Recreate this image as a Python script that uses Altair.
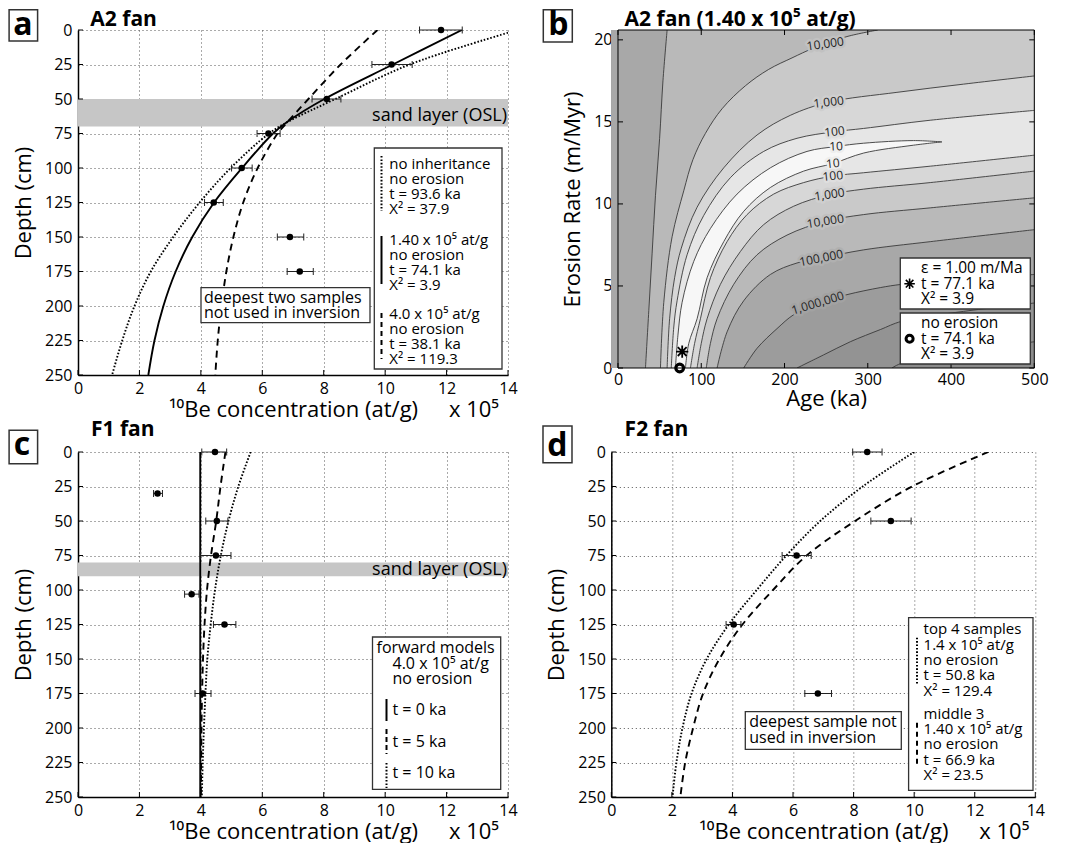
import altair as alt
import pandas as pd

FONT = "Open Sans"

# ---------------- Panel a: A2 fan ----------------
a_depth = [0, 25, 50, 75, 100, 125, 150, 175]
a_conc = [11.82, 10.21, 8.10, 6.20, 5.33, 4.42, 6.90, 7.22]
a_lo = [11.12, 9.57, 7.62, 5.83, 5.00, 4.12, 6.49, 6.81]
a_hi = [12.51, 10.88, 8.56, 6.58, 5.67, 4.73, 7.35, 7.66]
a_solid_depth = [0, 25, 50, 66, 75, 100, 125, 150, 175, 200, 225, 250]
a_solid_conc = [12.5, 10.25, 8.02, 6.85, 6.35, 5.34, 4.43, 3.72, 3.18, 2.78, 2.49, 2.29]
a_dotted_depth = [2, 25, 50, 66, 75, 100, 125, 150, 175, 200, 225, 250]
a_dotted_conc = [14.0, 10.8, 8.38, 6.88, 6.22, 4.97, 3.96, 3.10, 2.37, 1.84, 1.44, 1.11]
a_dashed_depth = [0, 25, 50, 66, 75, 100, 125, 150, 175, 200, 225, 250]
a_dashed_conc = [9.75, 8.55, 7.5, 6.85, 6.5, 5.85, 5.38, 5.06, 4.83, 4.67, 4.55, 4.47]
a_sand = [50, 70]

# ---------------- Panel c: F1 fan ----------------
c_depth = [0, 30, 50, 75, 103, 125, 175]
c_conc = [4.46, 2.59, 4.52, 4.49, 3.70, 4.77, 4.06]
c_lo = [4.03, 2.46, 4.16, 3.98, 3.47, 4.41, 3.81]
c_hi = [4.84, 2.75, 4.88, 4.98, 3.94, 5.14, 4.33]
c_t0_depth = [0, 250]
c_t0_conc = [3.98, 3.98]
c_t5_depth = [0, 25, 50, 75, 100, 125, 150, 175, 200, 250]
c_t5_conc = [4.80, 4.64, 4.50, 4.33, 4.20, 4.12, 4.07, 4.04, 4.02, 4.00]
c_t10_depth = [0, 25, 50, 75, 100, 125, 150, 175, 200, 225, 250]
c_t10_conc = [5.62, 5.22, 4.90, 4.65, 4.46, 4.32, 4.21, 4.15, 4.10, 4.06, 4.03]
c_sand = [80, 90]

# ---------------- Panel d: F2 fan ----------------
d_depth = [0, 50, 75, 125, 175]
d_conc = [8.45, 9.23, 6.12, 4.04, 6.82]
d_lo = [7.97, 8.57, 5.64, 3.79, 6.39]
d_hi = [8.94, 9.90, 6.60, 4.28, 7.27]
d_curve_depth = [0, 25, 50, 75, 100, 125, 150, 175, 200, 225, 250]
d_dotted_conc = [10.0, 8.3, 6.9, 5.78, 4.8, 3.88, 3.15, 2.65, 2.35, 2.15, 2.02]
d_dashed_conc = [12.45, 9.93, 8.05, 6.45, 5.34, 4.33, 3.57, 3.03, 2.70, 2.44, 2.28]

# ---------------- Panel b: chi-square contours (age ka, erosion m/Myr) ----------------
b_1e5u_age = [33, 37, 41, 45, 50, 54, 59]
b_1e5u_rate = [0, 3.5, 7, 10.5, 14, 17.5, 20.6]
b_1e4u_age = [51, 55, 65, 79, 90, 105, 125, 153, 181, 209, 235, 275, 312]
b_1e4u_rate = [0, 4, 8, 10.8, 12.7, 14.3, 15.8, 17.2, 18.2, 18.9, 19.5, 20.2, 20.6]
b_1e3u_age = [59, 62, 68, 76, 95, 127, 167, 207, 253, 335, 415, 500]
b_1e3u_rate = [0, 3, 5.5, 7.3, 9.8, 12.2, 14.2, 15.4, 16.2, 16.8, 17.3, 17.8]
b_1e2u_age = [64, 67, 71, 83, 103, 135, 175, 215, 260, 295, 375, 500]
b_1e2u_rate = [0, 2.5, 4.1, 6.9, 9.3, 11.6, 13.2, 14.0, 14.4, 14.6, 15.1, 15.7]
b_10u_age = [69, 72, 77, 91, 111, 143, 183, 227, 262, 295, 355, 389]
b_10u_rate = [0, 2, 4, 6.5, 8.5, 10.6, 12.2, 13.2, 13.5, 13.7, 13.86, 13.78]
b_10l_age = [81, 85, 95, 107, 127, 151, 183, 223, 258, 295, 355, 389]
b_10l_rate = [0, 1.5, 3.0, 5.5, 7.7, 9.55, 11.0, 12.0, 12.46, 13.1, 13.58, 13.78]
b_1e2l_age = [87, 92, 99, 111, 131, 155, 187, 223, 258, 295, 375, 500]
b_1e2l_rate = [0, 1.5, 3, 5.5, 7.7, 9.35, 10.6, 11.3, 11.7, 11.9, 12.3, 12.97]
b_1e3l_age = [95, 100, 107, 123, 147, 175, 211, 254, 295, 375, 500]
b_1e3l_rate = [0, 1.5, 3, 5.1, 7.1, 8.74, 9.86, 10.57, 10.9, 11.3, 12.0]
b_1e4l_age = [106, 111, 119, 139, 167, 203, 249, 295, 375, 500]
b_1e4l_rate = [0, 1.5, 3, 5.1, 6.9, 8.1, 8.94, 9.35, 9.76, 10.37]
b_1e5l_age = [119, 131, 151, 183, 215, 244, 295, 375, 500]
b_1e5l_rate = [0, 2.2, 4.1, 5.7, 6.4, 6.7, 7.2, 7.7, 8.43]
b_1e6l_age = [151, 167, 191, 211, 240, 275, 315, 341, 415, 500]
b_1e6l_rate = [0, 1.2, 2.4, 3.25, 3.96, 4.47, 4.9, 5.1, 5.4, 5.7]
b_1e7l_age = [215, 247, 279, 315, 341, 415, 500]
b_1e7l_rate = [0, 0.8, 1.6, 2.34, 2.85, 3.45, 3.96]
b_1e8l_age = [329, 341, 415, 500]
b_1e8l_rate = [0, 0.3, 1.0, 1.6]

b_label_text = ["10,000", "1,000", "100", "10", "10", "100", "1,000", "10,000", "100,000", "1,000,000"]
b_label_age = [249, 253, 260, 262, 258, 258, 254, 249, 244, 240]
b_label_rate = [19.75, 16.2, 14.4, 13.5, 12.46, 11.7, 10.57, 8.94, 6.7, 3.96]
b_label_angle = [352, 353, 354, 357, 354, 354, 352, 351, 349, 343]
b_label_halo = ["#c1c1c1", "#cfcfcf", "#dedede", "#eeeeee", "#eeeeee", "#dedede",
                "#cfcfcf", "#c1c1c1", "#b0b0b0", "#a2a2a2"]

b_star_age, b_star_rate = [77.1], [1.0]
b_ring_age, b_ring_rate = [74.1], [0.0]

# ---------------- layout constants ----------------
X_TICKS = [0, 2, 4, 6, 8, 10, 12, 14]
D_TICKS = [0, 25, 50, 75, 100, 125, 150, 175, 200, 225, 250]
BX_TICKS = [0, 100, 200, 300, 400, 500]
BY_TICKS = [0, 5, 10, 15, 20]
H = 345
B_W, B_H, B_OFF = 423, 338, 6.7
B_XMAX, B_TOP = 500, 20.6
LEG = 15
ONE = pd.DataFrame({"k": [0]})
STAR = "M0,-1L0,1M-1,0L1,0M-0.72,-0.72L0.72,0.72M-0.72,0.72L0.72,-0.72"


def txt(s, x, y, size=LEG, align="left", baseline="middle", weight="normal"):
    return alt.Chart(ONE).mark_text(text=s, align=align, baseline=baseline, fontSize=size,
                                    fontWeight=weight, font=FONT, color="black").encode(
        x=alt.value(x), y=alt.value(y))


def box(x1, y1, x2, y2, sw=1.3):
    return alt.Chart(ONE).mark_rect(fill="white", stroke="#333", strokeWidth=sw).encode(
        x=alt.value(x1), x2=alt.value(x2), y=alt.value(y1), y2=alt.value(y2))


def seg(x, y1, y2, dash=None, sw=2.0):
    kw = dict(color="black", strokeWidth=sw)
    if dash:
        kw["strokeDash"] = dash
    return alt.Chart(ONE).mark_rule(**kw).encode(x=alt.value(x), y=alt.value(y1), y2=alt.value(y2))


def letter(ch, x1, y1, x2, y2, bx, by):
    return [box(x1, y1, x2, y2, sw=1.5), txt(ch, bx, by, size=32, align="center",
                                             baseline="alphabetic", weight="bold")]


XAX = alt.Axis(values=X_TICKS, title="¹⁰Be concentration (at/g)", grid=True, gridDash=[1, 3],
               gridColor="#555", gridWidth=1, ticks=False, labelPadding=5, titlePadding=3,
               domainColor="black", domainWidth=1.5, labelFlush=False, format="d")
YAX = alt.Axis(values=D_TICKS, title="Depth (cm)", grid=True, gridDash=[1, 3],
               gridColor="#555", gridWidth=1, ticks=False, labelPadding=6, titlePadding=9,
               domainColor="black", domainWidth=1.5, labelFlush=False, format="d")

DOT = [1.6, 1.8]
DASH = [7, 5]


def profile(width, depth, conc, lo, hi, curves, sand, deco):
    xs = alt.Scale(domain=[0, 14], nice=False, zero=False)
    ys = alt.Scale(domain=[0, 250], reverse=True, nice=False, zero=False)

    def X(f):
        return alt.X(f"{f}:Q", scale=xs, axis=XAX)

    def Y(f):
        return alt.Y(f"{f}:Q", scale=ys, axis=YAX)

    layers = []
    if sand:
        sdf = pd.DataFrame({"d0": [sand[0]], "d1": [sand[1]]})
        layers.append(alt.Chart(sdf).mark_rect(color="#c6c6c6").encode(
            x=alt.value(0), x2=alt.value(width), y=Y("d0"), y2=alt.Y2("d1")))
    for cd, cc, dash in curves:
        kw = dict(color="black", strokeWidth=1.9, interpolate="catmull-rom", clip=True)
        if dash:
            kw["strokeDash"] = dash
        cdf = pd.DataFrame({"d": cd, "c": cc})
        layers.append(alt.Chart(cdf).mark_line(**kw).encode(x=X("c"), y=Y("d"), order=alt.Order("d:Q")))
    pdf = pd.DataFrame({"d": depth, "c": conc, "lo": lo, "hi": hi})
    layers.append(alt.Chart(pdf).mark_rule(color="#222", strokeWidth=1).encode(
        x=X("lo"), x2=alt.X2("hi"), y=Y("d")))
    for f in ("lo", "hi"):
        layers.append(alt.Chart(pdf).mark_tick(color="#222", thickness=1, size=7, orient="vertical",
                                               opacity=1).encode(x=X(f), y=Y("d")))
    layers.append(alt.Chart(pdf).mark_circle(color="black", size=42, opacity=1).encode(x=X("c"), y=Y("d")))
    tx = pd.DataFrame({"t": X_TICKS})
    ty = pd.DataFrame({"t": D_TICKS})
    layers.append(alt.Chart(tx).mark_rule(color="black", strokeWidth=1).encode(
        x=X("t"), y=alt.value(H), y2=alt.value(H - 5)))
    layers.append(alt.Chart(ty).mark_rule(color="black", strokeWidth=1).encode(
        y=Y("t"), x=alt.value(0), x2=alt.value(5)))
    layers += deco
    return alt.layer(*layers).properties(width=width, height=H)


# ---------------- panel a ----------------
deco_a = letter("a", -68.9, -20.2, -40.4, 11, -55, 4.5) + [
    txt("A2 fan", 12.3, -4, size=21, weight="bold", baseline="alphabetic"),
    txt("sand layer (OSL)", 429, 90.5, size=18, align="right", baseline="alphabetic"),
    box(296.3, 118, 424, 339),
    seg(303.5, 126, 181, DOT), seg(303.5, 206, 254), seg(303.5, 283, 329, [5, 4]),
    txt("no inheritance", 311.3, 133.5), txt("no erosion", 311.3, 148.8),
    txt("t = 93.6 ka", 311.3, 164.1), txt("X² = 37.9", 311.3, 179.4),
    txt("1.40 x 10⁵ at/g", 311.3, 209.5), txt("no erosion", 311.3, 224.8),
    txt("t = 74.1 ka", 311.3, 240.1), txt("X² = 3.9", 311.3, 255.4),
    txt("4.0 x 10⁵ at/g", 311.3, 283.5), txt("no erosion", 311.3, 298.8),
    txt("t = 38.1 ka", 311.3, 314.1), txt("X² = 119.3", 311.3, 329.4),
    box(123, 257.7, 292, 292.7),
    txt("deepest two samples", 126, 267.7, size=16), txt("not used in inversion", 126, 283.3, size=16),
    txt("x 10⁵", 396, 387, size=22, align="center", baseline="alphabetic"),
]
pa = profile(430, a_depth, a_conc, a_lo, a_hi,
             [(a_dotted_depth, a_dotted_conc, DOT), (a_solid_depth, a_solid_conc, None),
              (a_dashed_depth, a_dashed_conc, DASH)], a_sand, deco_a)

# ---------------- panel c ----------------
deco_c = letter("c", -68.9, -21.7, -40.4, 11.7, -56, 2.5) + [
    txt("F1 fan", 13, -16.5, size=21, weight="bold", baseline="alphabetic"),
    txt("sand layer (OSL)", 429, 123, size=18, align="right", baseline="alphabetic"),
    box(294.5, 185, 422.7, 337.3),
    txt("forward models", 298.5, 195.7, size=16), txt("4.0 x 10⁵ at/g", 314.5, 211.7, size=16),
    txt("no erosion", 314.5, 227.3, size=16),
    seg(308.5, 247, 269), seg(308.5, 277, 302, [5, 3]), seg(308.5, 311, 336, DOT),
    txt("t = 0 ka", 314.5, 258.3, size=16), txt("t = 5 ka", 314.5, 290, size=16),
    txt("t = 10 ka", 314.5, 321.3, size=16),
    txt("x 10⁵", 396, 387, size=22, align="center", baseline="alphabetic"),
]
pc = profile(430, c_depth, c_conc, c_lo, c_hi,
             [(c_t0_depth, c_t0_conc, None), (c_t5_depth, c_t5_conc, DASH),
              (c_t10_depth, c_t10_conc, DOT)], c_sand, deco_c)

# ---------------- panel d ----------------
deco_d = letter("d", -68.3, -26, -39.3, 10.7, -54, 4) + [
    txt("F2 fan", 13.3, -16.5, size=21, weight="bold", baseline="alphabetic"),
    box(297.3, 165.7, 421.7, 338.3),
    seg(305.7, 185.7, 232.3, DOT), seg(305.7, 270.7, 314, [5, 4]),
    txt("top 4 samples", 312.3, 177.3), txt("1.4 x 10⁵ at/g", 312.3, 192.6),
    txt("no erosion", 312.3, 207.9), txt("t = 50.8 ka", 312.3, 223.2), txt("X² = 129.4", 312.3, 238.5),
    txt("middle 3", 312.3, 261.7), txt("1.40 x 10⁵ at/g", 312.3, 277),
    txt("no erosion", 312.3, 292.3), txt("t = 66.9 ka", 312.3, 307.6), txt("X² = 23.5", 312.3, 322.9),
    box(134, 259.7, 290, 297.3),
    txt("deepest sample not", 138, 270.2, size=16), txt("used in inversion", 138, 285.7, size=16),
    txt("x 10⁵", 393, 387, size=22, align="center", baseline="alphabetic"),
]
pdd = profile(424, d_depth, d_conc, d_lo, d_hi,
              [(d_curve_depth, d_dotted_conc, DOT), (d_curve_depth, d_dashed_conc, DASH)],
              None, deco_d)

# ---------------- panel b ----------------
bxs = alt.Scale(domain=[0, B_XMAX], range=[B_OFF, B_W], nice=False, zero=False)
bys = alt.Scale(domain=[0, B_TOP], nice=False, zero=False)
BXAX = alt.Axis(values=BX_TICKS, title="Age (ka)", grid=False, ticks=False, domain=False,
                labelPadding=3, titlePadding=1, labelFlush=False, format="d")
BYAX = alt.Axis(values=BY_TICKS, title="Erosion Rate (m/Myr)", grid=False, ticks=False, domain=False,
                labelPadding=6, titlePadding=9, labelFlush=False, offset=-B_OFF, format="d")


def BX(f):
    return alt.X(f"{f}:Q", scale=bxs, axis=BXAX)


def BY(f):
    return alt.Y(f"{f}:Q", scale=bys, axis=BYAX)


def ext(xs, ys):
    return xs[-1] + (xs[-1] - xs[-2]), ys[-1] + (ys[-1] - ys[-2])


def polygon(ua, ur, la, lr, loop=False):
    pts = []
    if ua is None:
        pts += [(-150, -3), (-150, B_TOP + 6), (650, B_TOP + 6)]
    else:
        pts.append(ext(ua[::-1], ur[::-1]))
        pts += list(zip(ua, ur))
        if loop:
            pts += list(zip(la, lr))[::-1][1:]
            pts.append(ext(la[::-1], lr[::-1]))
            return pts
        pts.append(ext(ua, ur))
        if ur[-1] >= B_TOP:
            pts.append((650, B_TOP + 6))
    pts.append(ext(la, lr))
    pts += list(zip(la, lr))[::-1]
    pts.append(ext(la[::-1], lr[::-1]))
    return pts


fills = [
    (polygon(None, None, b_1e8l_age, b_1e8l_rate), "#939393"),
    (polygon(None, None, b_1e7l_age, b_1e7l_rate), "#9c9c9c"),
    (polygon(None, None, b_1e6l_age, b_1e6l_rate), "#a8a8a8"),
    (polygon(b_1e5u_age, b_1e5u_rate, b_1e5l_age, b_1e5l_rate), "#b9b9b9"),
    (polygon(b_1e4u_age, b_1e4u_rate, b_1e4l_age, b_1e4l_rate), "#c9c9c9"),
    (polygon(b_1e3u_age, b_1e3u_rate, b_1e3l_age, b_1e3l_rate), "#d7d7d7"),
    (polygon(b_1e2u_age, b_1e2u_rate, b_1e2l_age, b_1e2l_rate), "#e6e6e6"),
    (polygon(b_10u_age, b_10u_rate, b_10l_age, b_10l_rate, loop=True), "#f7f7f7"),
]

blayers = [alt.Chart(ONE).mark_rect(color="#8b8b8b").encode(
    x=alt.value(B_OFF), x2=alt.value(B_W), y=alt.value(0), y2=alt.value(B_H))]
for pts, col in fills:
    pdf_ = pd.DataFrame({"x": [p[0] for p in pts], "y": [p[1] for p in pts], "i": list(range(len(pts)))})
    blayers.append(alt.Chart(pdf_).mark_line(fill=col, strokeWidth=0, strokeOpacity=0,
                                             interpolate="catmull-rom", clip=True).encode(
        x=BX("x"), y=BY("y"), order=alt.Order("i:Q")))

branches = [(b_1e5u_age, b_1e5u_rate), (b_1e4u_age, b_1e4u_rate), (b_1e3u_age, b_1e3u_rate),
            (b_1e2u_age, b_1e2u_rate), (b_10u_age, b_10u_rate), (b_10l_age, b_10l_rate),
            (b_1e2l_age, b_1e2l_rate), (b_1e3l_age, b_1e3l_rate), (b_1e4l_age, b_1e4l_rate),
            (b_1e5l_age, b_1e5l_rate), (b_1e6l_age, b_1e6l_rate), (b_1e7l_age, b_1e7l_rate),
            (b_1e8l_age, b_1e8l_rate)]
rows = []
for bi, (ag, rt) in enumerate(branches):
    for i, (x, y) in enumerate(zip(ag, rt)):
        rows.append({"x": x, "y": y, "i": i, "b": bi})
cdf = pd.DataFrame(rows)
blayers.append(alt.Chart(cdf).mark_line(color="#3a3a3a", strokeWidth=0.9, interpolate="catmull-rom",
                                        clip=True).encode(
    x=BX("x"), y=BY("y"), detail="b:N", order=alt.Order("i:Q")))

ldf = pd.DataFrame({"x": b_label_age, "y": b_label_rate, "t": b_label_text,
                    "a": b_label_angle, "h": b_label_halo})
blayers.append(alt.Chart(ldf).mark_text(fontSize=12, font=FONT, strokeWidth=5, strokeJoin="round").encode(
    x=BX("x"), y=BY("y"), text="t:N", angle=alt.Angle("a:Q", scale=None),
    fill=alt.Fill("h:N", scale=None), stroke=alt.Stroke("h:N", scale=None)))
blayers.append(alt.Chart(ldf).mark_text(fontSize=12, font=FONT, color="#222").encode(
    x=BX("x"), y=BY("y"), text="t:N", angle=alt.Angle("a:Q", scale=None)))

frame = pd.DataFrame({"x0": [0], "x1": [B_XMAX], "y0": [0], "y1": [B_TOP]})
blayers.append(alt.Chart(frame).mark_rect(fill="transparent", stroke="black", strokeWidth=1).encode(
    x=BX("x0"), x2=alt.X2("x1"), y=BY("y0"), y2=alt.Y2("y1")))
btx = pd.DataFrame({"t": BX_TICKS})
bty = pd.DataFrame({"t": BY_TICKS})
blayers += [
    alt.Chart(btx).mark_rule(color="black", strokeWidth=1).encode(x=BX("t"), y=alt.value(B_H), y2=alt.value(B_H - 5)),
    alt.Chart(btx).mark_rule(color="black", strokeWidth=1).encode(x=BX("t"), y=alt.value(0), y2=alt.value(5)),
    alt.Chart(bty).mark_rule(color="black", strokeWidth=1).encode(y=BY("t"), x=alt.value(B_OFF), x2=alt.value(B_OFF + 5)),
    alt.Chart(bty).mark_rule(color="black", strokeWidth=1).encode(y=BY("t"), x=alt.value(B_W - 5), x2=alt.value(B_W)),
]
sdf = pd.DataFrame({"x": b_star_age, "y": b_star_rate})
rdf = pd.DataFrame({"x": b_ring_age, "y": b_ring_rate})
blayers.append(alt.Chart(sdf).mark_point(shape=STAR, size=150, color="black", strokeWidth=1.8,
                                         filled=False, opacity=1).encode(x=BX("x"), y=BY("y")))
blayers.append(alt.Chart(rdf).mark_point(shape="circle", size=60, color="black", strokeWidth=3.2,
                                         filled=False, opacity=1).encode(x=BX("x"), y=BY("y")))
blayers += letter("b", -68, -20.2, -39, 12, -53, 4.5) + [
    txt("A2 fan (1.40 x 10⁵ at/g)", 13.3, -4, size=21, weight="bold", baseline="alphabetic"),
    box(289, 228, 419, 279), box(289, 283, 419, 334),
    txt("ε = 1.00 m/Ma", 309.7, 238.2, size=15.5), txt("t = 77.1 ka", 309.7, 253.5, size=15.5),
    txt("X² = 3.9", 309.7, 268.5, size=15.5),
    txt("no erosion", 309.7, 293, size=15.5), txt("t = 74.1 ka", 309.7, 308.5, size=15.5),
    txt("X² = 3.9", 309.7, 323.5, size=15.5),
    alt.Chart(ONE).mark_point(shape=STAR, size=110, color="black", strokeWidth=1.6, filled=False,
                              opacity=1).encode(x=alt.value(298.3), y=alt.value(253.7)),
    alt.Chart(ONE).mark_point(shape="circle", size=50, color="black", strokeWidth=3, filled=False,
                              opacity=1).encode(x=alt.value(298.3), y=alt.value(308.7)),
]
pb = alt.layer(*blayers).properties(width=B_W, height=B_H)

chart = alt.concat(pa, pb, pc, pdd, columns=2, spacing={"row": 77, "column": 103.3},
                   bounds="flush", padding=0).configure_axis(
    labelFont=FONT, titleFont=FONT, labelFontSize=16, titleFontSize=22, titleFontWeight="normal",
    labelColor="black", titleColor="black").configure_view(stroke=None)

chart.save("out.html", embed_options={"renderer": "svg", "actions": False})
